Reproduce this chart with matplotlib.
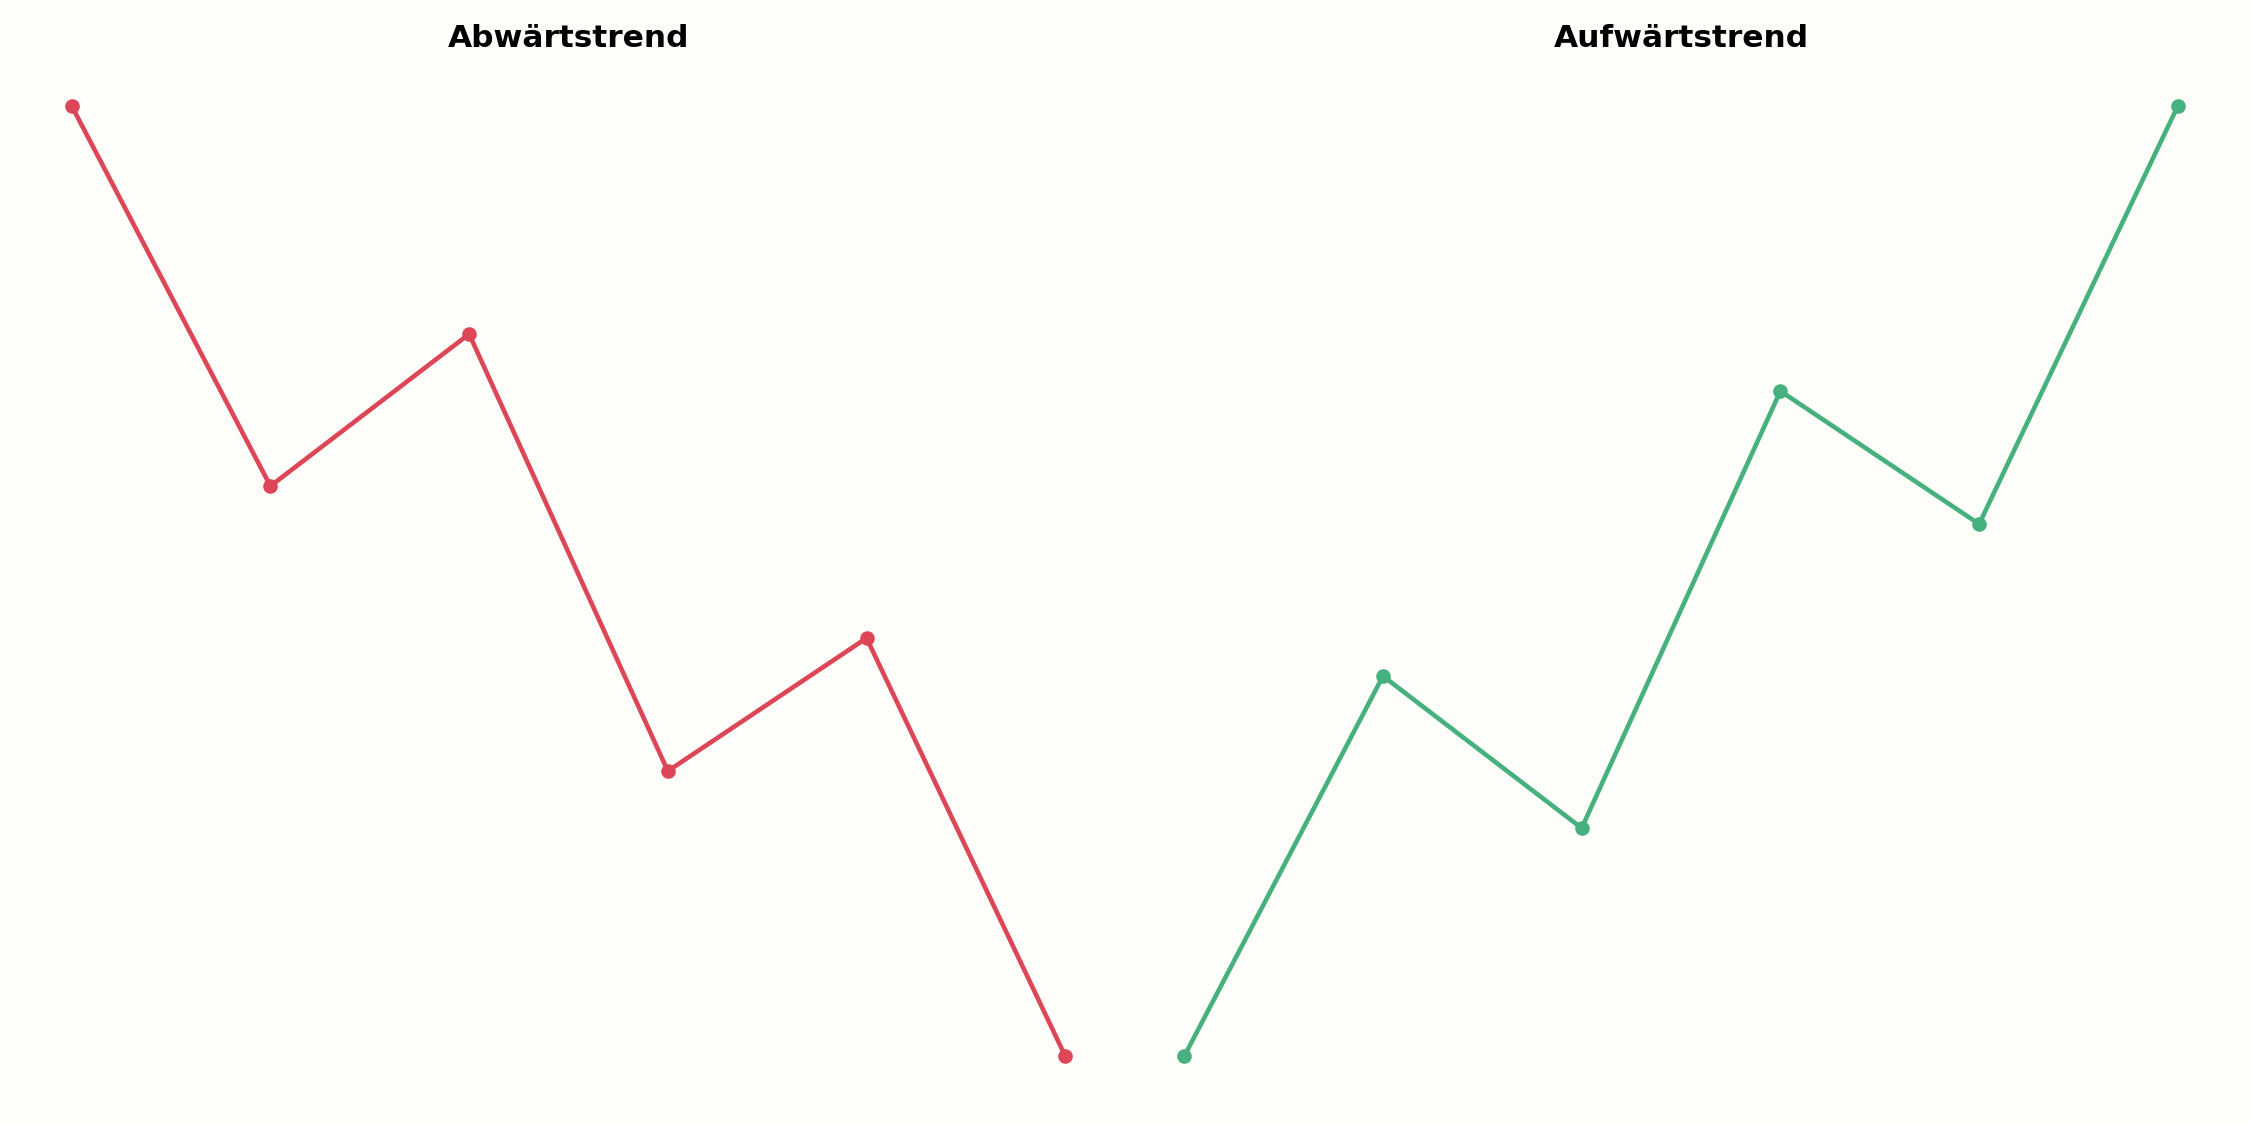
import matplotlib
matplotlib.use('Agg')
import matplotlib.pyplot as plt

# --- data ---
steps = [0, 1, 2, 3, 4, 5]
down_values = [100, 60, 76, 30, 44, 0]
up_values = [0, 40, 24, 70, 56, 100]
titles = ['Abwärtstrend', 'Aufwärtstrend']

bg = '#fdfdf9'
red = '#dc4656'
green = '#47b07f'

fig, axes = plt.subplots(1, 2, figsize=(15, 7.5), dpi=150, facecolor=bg)
fig.subplots_adjust(left=0.0098, right=0.99, top=0.948, bottom=0.019, wspace=0.018)

for ax, vals, col, title in zip(axes, [down_values, up_values], [red, green], titles):
    ax.set_facecolor(bg)
    ax.plot(steps, vals, color=col, lw=2.2, marker='o', ms=6)
    ax.set_title(title, fontsize=15, fontweight='bold', pad=5.5)
    ax.axis('off')

plt.savefig('out.png', dpi=150, facecolor=bg)
plt.close()
